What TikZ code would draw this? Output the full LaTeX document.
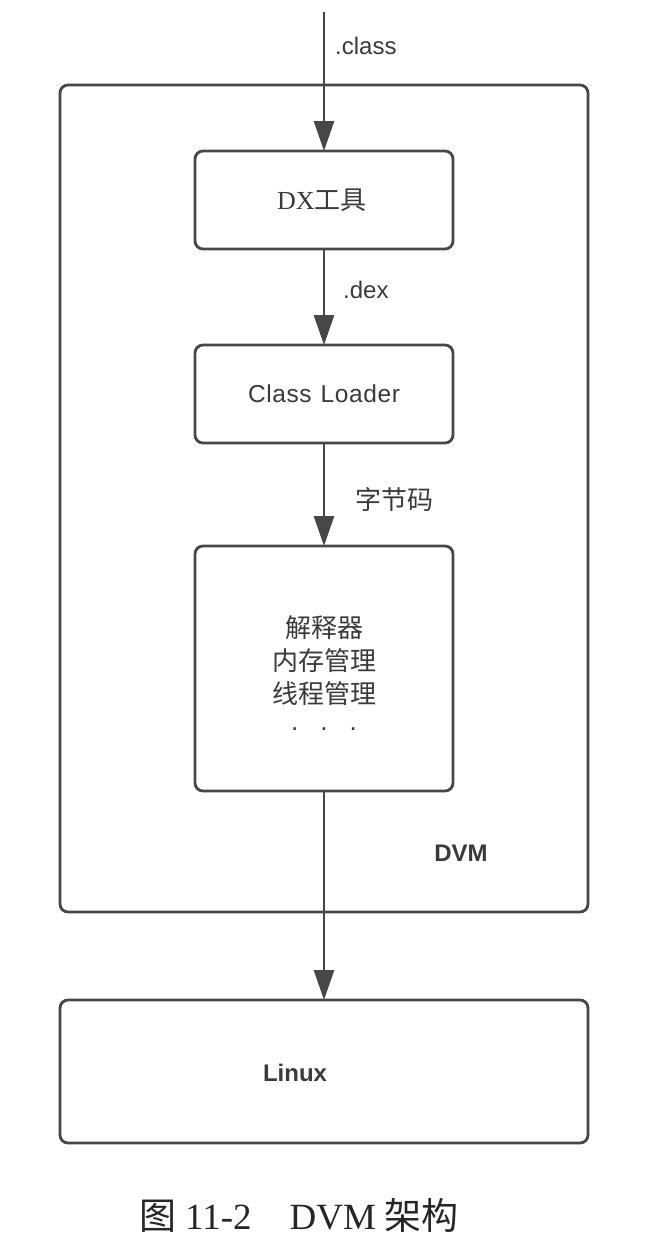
\documentclass[tikz,border=0pt]{standalone}
\usepackage{fontspec}
\setmainfont{Liberation Serif}
\newfontfamily\cjk{Noto Sans CJK SC}
\newfontfamily\sansf{Liberation Sans}
\usetikzlibrary{arrows.meta}
\definecolor{ln}{HTML}{474747}
\definecolor{tx}{HTML}{3A3A3A}
\begin{document}
\begin{tikzpicture}[x=1pt,y=-1pt,
  box/.style={draw=ln, line width=2.8pt, rounded corners=8pt, inner sep=0pt, outer sep=0pt, text=tx},
  flow/.style={draw=ln, line width=2.8pt, -{Triangle[width=20pt,length=30pt,fill=ln]}},
  lbl/.style={text=tx, inner sep=0pt, anchor=west},
  bodytext/.style={text=tx, inner sep=0pt}]
\useasboundingbox (0,0) rectangle (656,1258);
% boxes
\node[box, minimum width=528pt, minimum height=827pt] (dvm) at (324,498.5) {};
\node[box, minimum width=258pt, minimum height=98pt] (dx) at (324,200) {};
\node[box, minimum width=258pt, minimum height=98pt] (cl) at (324,394) {};
\node[box, minimum width=258pt, minimum height=245pt] (core) at (324,668.5) {};
\node[box, minimum width=528pt, minimum height=143pt] (linux) at (324,1071.5) {};
% texts in boxes
\node[bodytext, font=\fontsize{26}{30}\selectfont] (dxt) at (322,200) {DX{\cjk 工具}};
\node[bodytext, font=\sansf\fontsize{24.5}{30}\selectfont] (clt) at (324,394) {C\kern0.6pt l\kern0.6pt a\kern0.6pt s\kern0.6pt s\hspace{9pt}L\kern0.6pt o\kern0.6pt a\kern0.6pt d\kern0.6pt e\kern0.6pt r};
\node[bodytext, align=center, font=\cjk\fontsize{26}{33}\selectfont] (coret) at (324,673) {解释器\\内存管理\\线程管理\\[-6pt]{\sansf .\hspace{22pt}.\hspace{22pt}.}};
\node[bodytext, font=\sansf\bfseries\fontsize{24}{30}\selectfont] (dvmlbl) at (461,853) {DVM};
\node[bodytext, font=\sansf\bfseries\fontsize{24}{30}\selectfont] (linuxt) at (295,1073) {Linux};
% connectors
\coordinate (src) at (324,12);
\draw[flow] (src) -- (dx.north);
\draw[flow] (dx.south) -- (cl.north);
\draw[flow] (cl.south) -- (core.north);
\draw[flow] (core.south) -- (linux.north);
% connector labels
\node[lbl, font=\sansf\fontsize{24}{30}\selectfont] (lclass) at (335,46) {.class};
\node[lbl, font=\sansf\fontsize{24}{30}\selectfont] (ldex) at (343,290) {.dex};
\node[lbl, font=\cjk\fontsize{26}{30}\selectfont] (lbyte) at (355,500) {字节码};
% caption
\node[anchor=west, inner sep=0pt, text=black!85, font=\fontsize{37}{40}\selectfont] (cap) at (139,1215) {{\cjk 图}\hspace{9pt}11-2\hspace{38pt}DVM\hspace{9pt}{\cjk 架构}};
\end{tikzpicture}
\end{document}
